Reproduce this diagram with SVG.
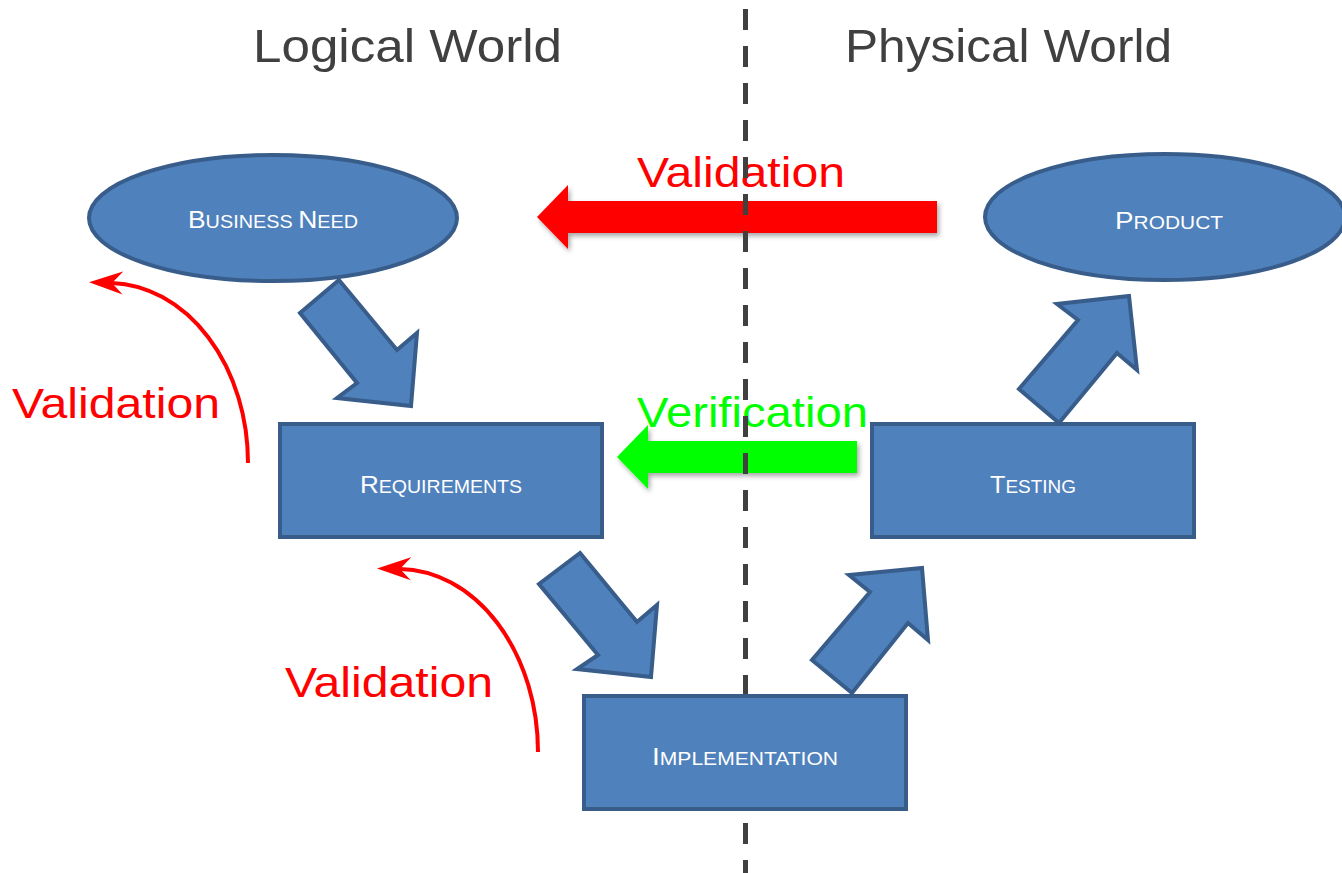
<svg xmlns="http://www.w3.org/2000/svg" width="1342" height="873" viewBox="0 0 1342 873">
<style>
.shape{fill:#4F81BD;stroke:#385D8A;stroke-width:4;stroke-linejoin:miter}
.lbl{fill:#FFFFFF;font-family:"Liberation Sans",Arial,sans-serif;text-anchor:middle}
.big{font-size:24px}
.sm{font-size:18px}
.title{fill:#404040;font-family:"Liberation Sans",Arial,sans-serif;font-size:47px}
.val{fill:#FF0000;font-family:"Liberation Sans",Arial,sans-serif;font-size:43px}
.ver{fill:#00FF00;font-family:"Liberation Sans",Arial,sans-serif;font-size:43px}
.curve{fill:none;stroke:#FF0000;stroke-width:4}
</style>
<defs>
<marker id="head" markerUnits="userSpaceOnUse" viewBox="0 -13 35 26" markerWidth="35" markerHeight="26" refX="11" refY="0" orient="auto">
<path d="M34,0 L0,-11 L11,0 L0,12 Z" fill="#FF0000"/>
</marker>
<filter id="shadow" x="-10%" y="-30%" width="120%" height="170%">
<feDropShadow dx="2" dy="3" stdDeviation="2.5" flood-color="#000000" flood-opacity="0.35"/>
</filter>
</defs>
<rect width="1342" height="873" fill="#FFFFFF"/>

<text class="title" x="253" y="62" textLength="309" lengthAdjust="spacingAndGlyphs">Logical World</text>
<text class="title" x="845" y="62" textLength="327" lengthAdjust="spacingAndGlyphs">Physical World</text>

<g id="business-need">
<ellipse class="shape" cx="273" cy="218" rx="184" ry="63"/>
<text class="lbl" x="273" y="228" textLength="170" lengthAdjust="spacingAndGlyphs"><tspan class="big">B</tspan><tspan class="sm">USINESS </tspan><tspan class="big">N</tspan><tspan class="sm">EED</tspan></text>
</g>
<g id="product">
<ellipse class="shape" cx="1165" cy="217" rx="180" ry="63"/>
<text class="lbl" x="1169" y="229" textLength="108" lengthAdjust="spacingAndGlyphs"><tspan class="big">P</tspan><tspan class="sm">RODUCT</tspan></text>
</g>
<g id="requirements">
<rect class="shape" x="280" y="424" width="322" height="113"/>
<text class="lbl" x="441" y="493" textLength="162" lengthAdjust="spacingAndGlyphs"><tspan class="big">R</tspan><tspan class="sm">EQUIREMENTS</tspan></text>
</g>
<g id="testing">
<rect class="shape" x="872" y="424" width="322" height="113"/>
<text class="lbl" x="1033" y="493" textLength="86" lengthAdjust="spacingAndGlyphs"><tspan class="big">T</tspan><tspan class="sm">ESTING</tspan></text>
</g>

<g id="connectors">
<polygon class="shape" points="339,280 300,313 357,383 337,398 411,406 417,333 397,350"/>
<polygon class="shape" points="580,553 539,584 598,655 577,669 651,677 657,605 637,622"/>
<polygon class="shape" points="852,693 812,660 870,592 849,575 922,568 928,640 908,623"/>
<polygon class="shape" points="1059,423 1019,389 1078,320 1057,304 1129,296 1137,370 1117,353"/>
<polygon points="537,217 568,185 568,201 937,201 937,233 568,233 568,249" fill="#FF0000" filter="url(#shadow)"/>
<polygon points="617,457 648,425 648,441 857,441 857,473 648,473 648,489" fill="#00FF00" filter="url(#shadow)"/>
<path class="curve" d="M248,463 A140,180 0 0 0 112,283" marker-end="url(#head)"/>
<path class="curve" d="M538,752 A140,183 0 0 0 400,569" marker-end="url(#head)"/>
</g>

<text class="val" x="637" y="187" textLength="208" lengthAdjust="spacingAndGlyphs">Validation</text>
<text class="ver" x="637" y="427" textLength="231" lengthAdjust="spacingAndGlyphs">Verification</text>
<text class="val" x="12" y="418" textLength="208" lengthAdjust="spacingAndGlyphs">Validation</text>
<text class="val" x="285" y="697" textLength="208" lengthAdjust="spacingAndGlyphs">Validation</text>

<line x1="745.5" y1="9" x2="745.5" y2="873" stroke="#404040" stroke-width="5" stroke-dasharray="21 16"/>

<g id="implementation">
<rect class="shape" x="584" y="696" width="322" height="113"/>
<text class="lbl" x="745" y="765" textLength="186" lengthAdjust="spacingAndGlyphs"><tspan class="big">I</tspan><tspan class="sm">MPLEMENTATION</tspan></text>
</g>
</svg>
